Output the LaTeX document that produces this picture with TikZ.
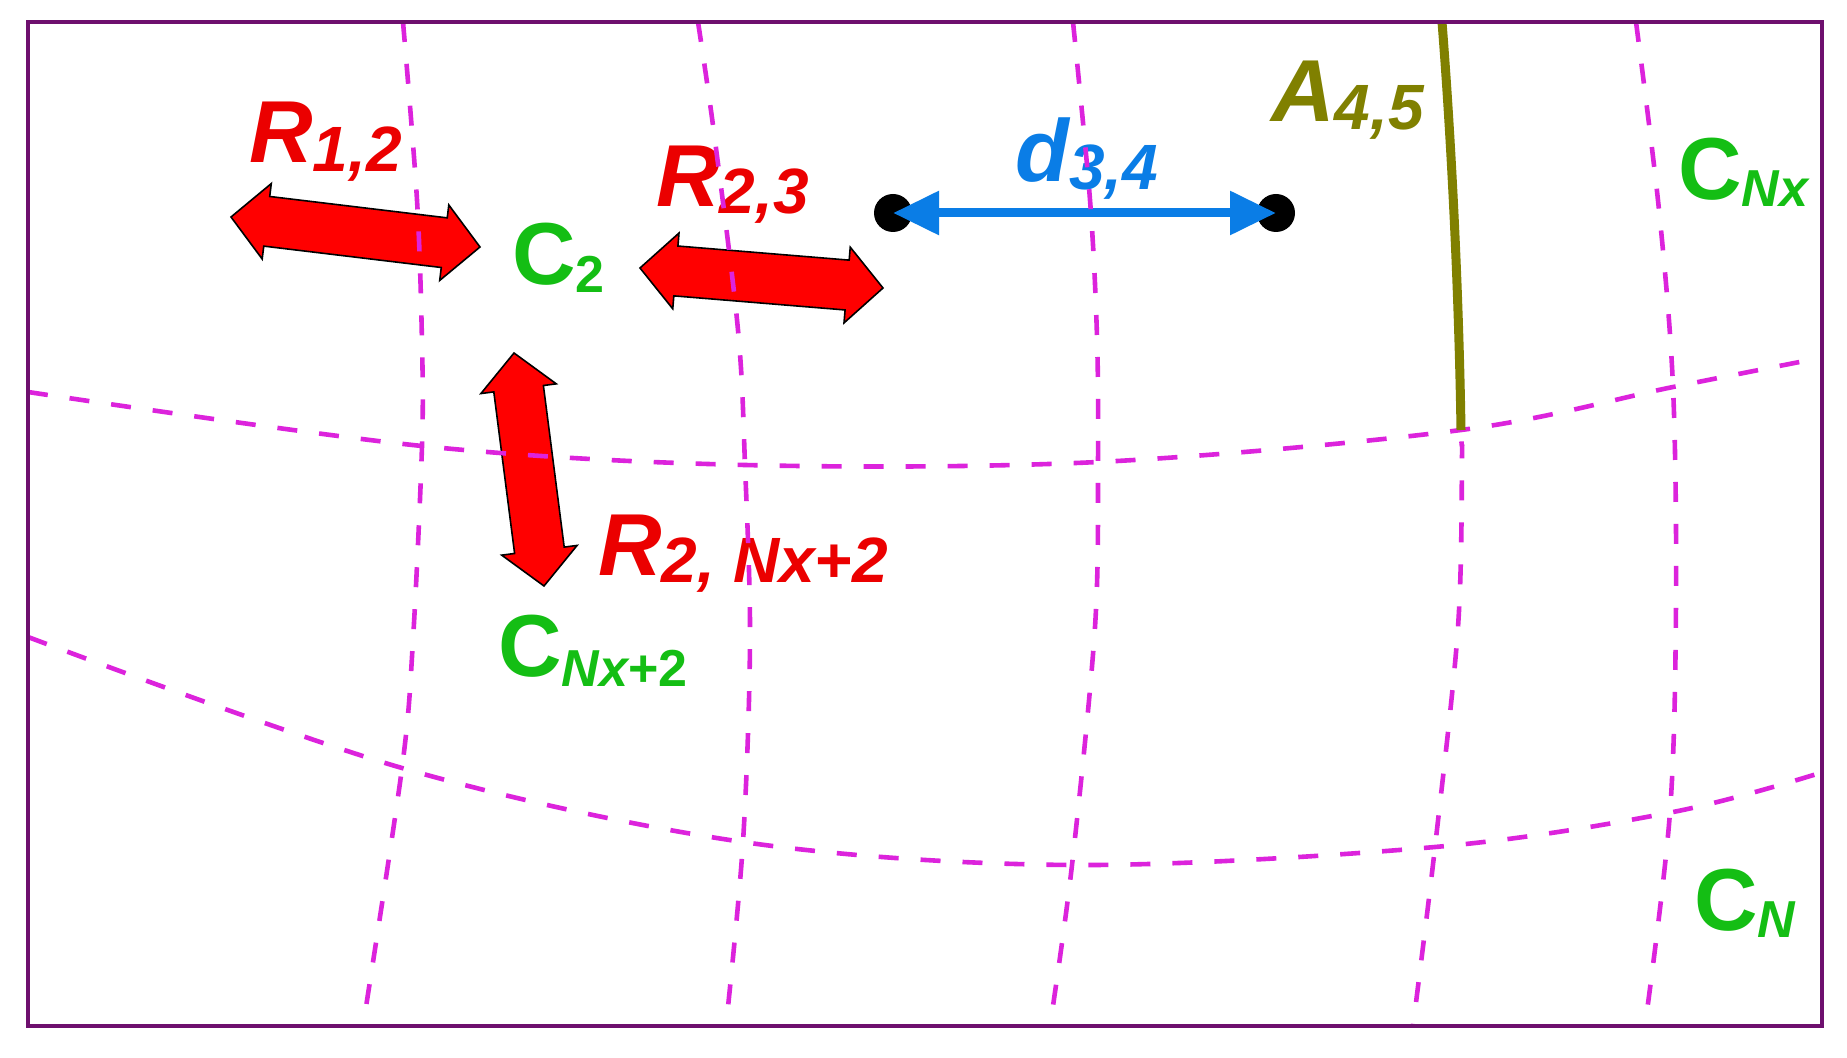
\documentclass[tikz,border=0pt]{standalone}
\usepackage{fontspec}
\setmainfont{Liberation Sans}
\usetikzlibrary{calc,arrows.meta}
\definecolor{framec}{RGB}{110,15,110}
\definecolor{magc}{RGB}{220,35,220}
\definecolor{redc}{RGB}{235,0,0}
\definecolor{arrowred}{RGB}{255,0,0}
\definecolor{greenc}{RGB}{20,190,20}
\definecolor{bluec}{RGB}{10,125,230}
\definecolor{olivec}{RGB}{128,128,0}
\newcommand\Lbig{\fontsize{44pt}{44pt}\selectfont}
\newcommand\Lsub{\fontsize{32pt}{32pt}\selectfont}
\newcommand\Csub{\fontsize{26pt}{26pt}\selectfont}
\newcommand\redarrow[2]{%
 \coordinate (ba1) at ($(#1)!18pt!(#2)$);
 \coordinate (ba2) at ($(#2)!18pt!(#1)$);
 \filldraw[blockarrow] (#1) -- ($(ba1)!19pt!90:(#2)$) -- ($(ba1)!12.5pt!90:(#2)$) -- ($(ba2)!12.5pt!-90:(#1)$) -- ($(ba2)!19pt!-90:(#1)$) -- (#2) -- ($(ba2)!19pt!90:(#1)$) -- ($(ba2)!12.5pt!90:(#1)$) -- ($(ba1)!12.5pt!-90:(#2)$) -- ($(ba1)!19pt!-90:(#2)$) -- cycle;}
\begin{document}
\begin{tikzpicture}[x=0.5pt,y=-0.5pt,
 lbl/.style={inner sep=0pt, anchor=base west, font=\bfseries},
 gridline/.style={magc, line width=2.3pt, dash pattern=on 10pt off 11pt},
 blockarrow/.style={fill=arrowred, draw=black, line width=0.8pt, line join=miter},
 frame/.style={draw=framec, line width=2.3pt},
 dot/.style={circle, fill=black, minimum size=19pt, inner sep=0pt},
 dist/.style={bluec, line width=4.5pt, {Triangle[length=23pt,width=21pt]}-{Triangle[length=23pt,width=21pt]}},
 face/.style={olivec, line width=4.5pt}]
\fill[white] (0,0) rectangle (1847,1058);
\useasboundingbox (0,0) rectangle (1847,1058);

% red block arrows
\coordinate (r12a) at (231,217); \coordinate (r12b) at (480,247);
\coordinate (r23a) at (640,268); \coordinate (r23b) at (883,288);
\coordinate (rva) at (514,353);  \coordinate (rvb) at (544,586);
\redarrow{r12a}{r12b}
\redarrow{r23a}{r23b}
\redarrow{rva}{rvb}

% distance arrow
\node[dot] (dl) at (893,213) {};
\node[dot] (dr) at (1276,213) {};
\draw[dist] (dl.center) -- (dr.center);

% labels
\node[lbl, text=redc] (R12) at (249,163) {{\Lbig\itshape R}\raisebox{-4.5pt}{\Lsub\itshape 1,2}};
\node[lbl, text=redc] (R23) at (656,207) {{\Lbig\itshape R}\raisebox{-3.5pt}{\Lsub\itshape 2,3}};
\node[lbl, text=redc] (R2N) at (598,575) {{\Lbig\itshape R}\raisebox{-4pt}{\Lsub\itshape 2, Nx+2}};
\node[lbl, text=bluec] (d34) at (1015,182) {{\Lbig\itshape d}\raisebox{-4pt}{\Lsub\itshape 3,4}};
\node[lbl, text=olivec] (A45) at (1271,122) {{\Lbig\itshape A}\raisebox{-4pt}{\Lsub\itshape 4,5}};
\node[lbl, text=greenc] (C2) at (512,285) {{\Lbig C}\raisebox{-4pt}{\Csub 2}};
\node[lbl, text=greenc] (CNx2) at (498,676) {{\Lbig C}\raisebox{-5pt}{\Csub\itshape Nx\upshape +2}};
\node[lbl, text=greenc] (CNx) at (1678,200) {{\Lbig C}\raisebox{-3.5pt}{\Csub\itshape Nx}};
\node[lbl, text=greenc] (CN) at (1694,930) {{\Lbig C}\raisebox{-3.5pt}{\Csub\itshape N}};

% dashed grid
\draw[gridline] plot[smooth, tension=0.55] coordinates {(28,392) (422,446) (745,465) (1098,462) (1461,430) (1673,387) (1820,358)};
\draw[gridline] plot[smooth, tension=0.55] coordinates {(28,637) (402,768) (743,842) (1072,865) (1435,847) (1673,812) (1820,773)};
\draw[gridline] plot[smooth, tension=0.55] coordinates {(403,22) (417,200) (422,343) (422,446) (413,640) (402,768) (363,1026)};
\draw[gridline] plot[smooth, tension=0.55] coordinates {(698,22) (714,133) (738,330) (745,465) (750,640) (743,842) (726,1026)};
\draw[gridline] plot[smooth, tension=0.55] coordinates {(1073,22) (1090,200) (1097,337) (1098,462) (1095,627) (1072,865) (1050,1026)};
\draw[gridline] plot[smooth, tension=0.55] coordinates {(1441,22) (1455,230) (1461,430) (1462,457) (1458,627) (1435,847) (1413,1026)};
\draw[gridline] plot[smooth, tension=0.55] coordinates {(1636,22) (1659,210) (1673,387) (1676,600) (1670,812) (1645,1026)};

% interface line
\coordinate (at) at (1442,22); \coordinate (ab) at (1461,430);
\draw[face] (at) .. controls (1452,150) and (1459,300) .. (ab);

% frame
\draw[frame] (28,22) rectangle (1822,1026);
\end{tikzpicture}
\end{document}
